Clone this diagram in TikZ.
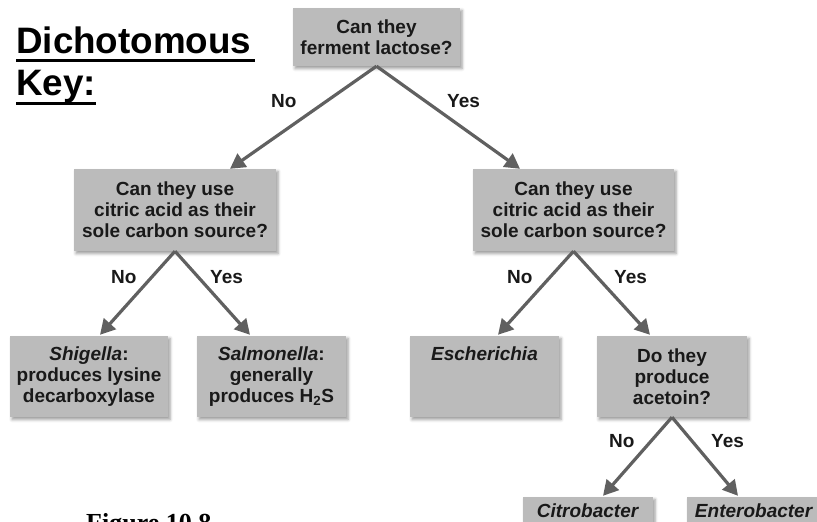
\documentclass[tikz,border=0pt]{standalone}
\usepackage{fontspec}
\setmainfont{Liberation Sans}
\newfontfamily\serifbold{Liberation Serif}
\usetikzlibrary{arrows.meta,shadows.blur}

\definecolor{boxgray}{RGB}{187,187,187}
\definecolor{arrowgray}{RGB}{96,96,96}
\definecolor{inkblack}{RGB}{25,25,25}

\begin{document}
\begin{tikzpicture}[x=1pt,y=-1pt,
  keybox/.style={fill=boxgray, inner sep=0pt, align=center, text=inkblack,
    font=\fontsize{19}{21}\selectfont\bfseries,
    blur shadow={shadow xshift=2pt, shadow yshift=-2.5pt,
      shadow blur radius=3pt, shadow opacity=40}},
  branch/.style={draw=arrowgray, line width=3.2pt,
    -{Triangle[length=15pt,width=16pt]}},
  answer/.style={font=\fontsize{19}{21}\selectfont\bfseries, text=inkblack,
    inner sep=0pt, anchor=base west},
  heading/.style={font=\fontsize{36.8}{40}\selectfont\bfseries, text=black,
    inner sep=0pt, anchor=base west},
]
\useasboundingbox (0,0) rectangle (817,522);
\clip (0,0) rectangle (817,522);

% title
\node[heading] (dicho) at (16,53) {Dichotomous};
\node[heading] (key) at (16,95) {Key:};
\draw[line width=3pt] ([yshift=-7.5pt]dicho.base west) -- ([yshift=-7.5pt,xshift=3pt]dicho.base east);
\draw[line width=3pt] ([yshift=-8pt]key.base west) -- ([yshift=-8pt]key.base east);

% question and result boxes
\node[keybox, minimum width=167pt, minimum height=58pt] (lactose) at (376.5,37)
  {Can they\\ferment lactose?};
\node[keybox, minimum width=202pt, minimum height=82pt] (citL) at (175,210)
  {Can they use\\citric acid as their\\sole carbon source?};
\node[keybox, minimum width=201pt, minimum height=82pt] (citR) at (573.5,210)
  {Can they use\\citric acid as their\\sole carbon source?};
\node[keybox, minimum width=158pt, minimum height=81pt] (shig) at (89,376.5)
  {\textit{Shigella}:\\produces lysine\\decarboxylase};
\node[keybox, minimum width=149pt, minimum height=81pt] (salm) at (271.5,376.5)
  {\textit{Salmonella}:\\generally\\produces H\textsubscript{2}S};
\node[keybox, minimum width=149pt, minimum height=81pt] (esch) at (484.5,376.5) {};
\node[answer, anchor=base] (eschname) at (484.5,360) {\textit{Escherichia}};
\node[keybox, minimum width=150pt, minimum height=81pt] (acet) at (672,376.5)
  {Do they\\produce\\acetoin?};
\node[keybox, minimum width=130pt, minimum height=28pt] (citro) at (588,511)
  {\textit{Citrobacter}};
\node[keybox, minimum width=134pt, minimum height=28pt] (entero) at (754,511)
  {\textit{Enterobacter}};

% branches
\draw[branch] (lactose.south) -- ([xshift=55pt]citL.north);
\draw[branch] (lactose.south) -- ([xshift=-53.5pt]citR.north);
\draw[branch] (citL.south) -- ([xshift=11pt,yshift=1pt]shig.north);
\draw[branch] (citL.south) -- ([xshift=-21.5pt,yshift=1pt]salm.north);
\draw[branch] (citR.south) -- ([xshift=13.5pt,yshift=1pt]esch.north);
\draw[branch] (citR.south) -- ([xshift=-22pt,yshift=1pt]acet.north);
\draw[branch] (acet.south) -- ([xshift=15pt,yshift=1pt]citro.north);
\draw[branch] (acet.south) -- ([xshift=-16pt,yshift=1pt]entero.north);

% branch labels
\node[answer] (no1) at (271,107) {No};
\node[answer] (yes1) at (447,107) {Yes};
\node[answer] (no2) at (111,283) {No};
\node[answer] (yes2) at (210,283) {Yes};
\node[answer] (no3) at (507,283) {No};
\node[answer] (yes3) at (614,283) {Yes};
\node[answer] (no4) at (609,447) {No};
\node[answer] (yes4) at (711,447) {Yes};

% caption
\node[anchor=base west, inner sep=0pt, font=\serifbold\bfseries\fontsize{26}{30}\selectfont]
  (caption) at (86,531) {Figure 10.8};
\end{tikzpicture}
\end{document}
